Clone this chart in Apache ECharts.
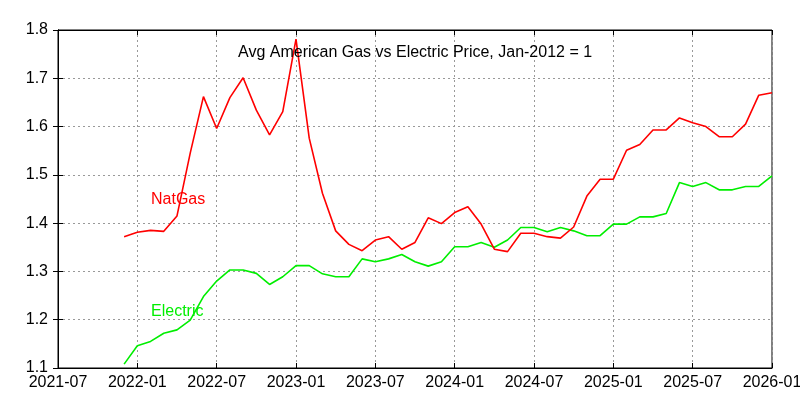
<!DOCTYPE html>
<html>
<head>
<meta charset="utf-8">
<script src="https://cdn.jsdelivr.net/npm/echarts@6/dist/echarts.min.js"></script>
<style>
    html, body { margin: 0; padding: 0; background: #fff; }
    #chart { width: 800px; height: 400px; }
</style>
</head>
<body>
<div id="chart"></div>
<script>
// monthly points, Dec 2021 .. Jan 2026
const months = [
    '2021-12', '2022-01', '2022-02', '2022-03', '2022-04', '2022-05', '2022-06',
    '2022-07', '2022-08', '2022-09', '2022-10', '2022-11', '2022-12',
    '2023-01', '2023-02', '2023-03', '2023-04', '2023-05', '2023-06',
    '2023-07', '2023-08', '2023-09', '2023-10', '2023-11', '2023-12',
    '2024-01', '2024-02', '2024-03', '2024-04', '2024-05', '2024-06',
    '2024-07', '2024-08', '2024-09', '2024-10', '2024-11', '2024-12',
    '2025-01', '2025-02', '2025-03', '2025-04', '2025-05', '2025-06',
    '2025-07', '2025-08', '2025-09', '2025-10', '2025-11', '2025-12',
    '2026-01'
];
const natGas = [
    1.372, 1.381, 1.385, 1.383, 1.415, 1.545, 1.662,
    1.596, 1.660, 1.701, 1.634, 1.583, 1.631,
    1.781, 1.576, 1.462, 1.384, 1.356, 1.343,
    1.365, 1.372, 1.346, 1.360, 1.411, 1.399,
    1.422, 1.434, 1.398, 1.346, 1.341, 1.379,
    1.379, 1.372, 1.369, 1.392, 1.456, 1.491,
    1.491, 1.551, 1.563, 1.593, 1.593, 1.618,
    1.608, 1.600, 1.579, 1.579, 1.605, 1.665,
    1.670
];
const electric = [
    1.108, 1.146, 1.155, 1.172, 1.179, 1.199, 1.248,
    1.280, 1.303, 1.303, 1.296, 1.273, 1.289,
    1.312, 1.312, 1.295, 1.289, 1.289, 1.326,
    1.320, 1.326, 1.335, 1.320, 1.311, 1.320,
    1.351, 1.351, 1.360, 1.350, 1.365, 1.391,
    1.391, 1.382, 1.391, 1.384, 1.374, 1.374,
    1.398, 1.398, 1.413, 1.413, 1.420, 1.484,
    1.476, 1.484, 1.469, 1.469, 1.476, 1.476,
    1.498
];
const xTickLabels = [
    '2021-07', '2022-01', '2022-07', '2023-01', '2023-07',
    '2024-01', '2024-07', '2025-01', '2025-07', '2026-01'
];

const FONT = 'Liberation Sans';

// x axis counts months from the first tick label
const start = xTickLabels[0].split('-').map(Number);
function monthIndex(s) {
    const [y, m] = s.split('-').map(Number);
    return (y - start[0]) * 12 + (m - start[1]);
}
const xMax = monthIndex(xTickLabels[xTickLabels.length - 1]);

const chart = echarts.init(document.getElementById('chart'));

const gridLine = {
    show: true,
    lineStyle: { color: '#999', type: [2, 3], width: 1 }
};

chart.setOption({
    animation: false,
    backgroundColor: '#fff',
    title: {
        text: 'Avg American Gas vs Electric Price, Jan-2012 = 1',
        left: 233,
        top: 40,
        textStyle: { fontFamily: FONT, fontSize: 16, fontWeight: 'normal', color: '#000' }
    },
    grid: {
        left: 58,
        right: 28,
        top: 30,
        bottom: 32,
        outerBoundsMode: 'none',
        containLabel: false,
        show: true,
        borderColor: '#000',
        borderWidth: 1
    },
    xAxis: [
        {
            type: 'value',
            min: 0,
            max: xMax,
            interval: 6,
            axisLine: { show: true, lineStyle: { color: '#000' } },
            axisTick: { show: true, inside: true, length: 5, lineStyle: { color: '#000' } },
            axisLabel: {
                fontFamily: FONT,
                fontSize: 16,
                color: '#000',
                margin: 7,
                formatter: v => xTickLabels[Math.round(v / 6)] || ''
            },
            splitLine: gridLine
        },
        {
            type: 'value',
            position: 'top',
            min: 0,
            max: xMax,
            interval: 6,
            axisLine: { show: true, lineStyle: { color: '#000' } },
            axisTick: { show: true, inside: true, length: 5, lineStyle: { color: '#000' } },
            axisLabel: { show: false },
            splitLine: { show: false }
        }
    ],
    yAxis: [
        {
            type: 'value',
            min: 1.1,
            max: 1.8,
            interval: 0.1,
            axisLine: { show: true, lineStyle: { color: '#000' } },
            axisTick: { show: true, inside: true, length: 5, lineStyle: { color: '#000' } },
            axisLabel: {
                fontFamily: FONT,
                fontSize: 16,
                color: '#000',
                margin: 10,
                formatter: v => v.toFixed(1)
            },
            splitLine: gridLine
        },
        {
            type: 'value',
            position: 'right',
            min: 1.1,
            max: 1.8,
            interval: 0.1,
            axisLine: { show: true, lineStyle: { color: '#000' } },
            axisTick: { show: true, inside: true, length: 5, lineStyle: { color: '#000' } },
            axisLabel: { show: false },
            splitLine: { show: false }
        }
    ],
    graphic: [
        {
            type: 'text',
            left: 151,
            top: 192,
            style: { text: 'NatGas', font: '16px "Liberation Sans"', fill: '#ff0000' }
        },
        {
            type: 'text',
            left: 151,
            top: 304,
            style: { text: 'Electric', font: '16px "Liberation Sans"', fill: '#00ee00' }
        }
    ],
    series: [
        {
            name: 'NatGas',
            type: 'line',
            showSymbol: false,
            lineStyle: { color: '#ff0000', width: 1.6 },
            data: months.map((m, i) => [monthIndex(m), natGas[i]]),
            z: 3
        },
        {
            name: 'Electric',
            type: 'line',
            showSymbol: false,
            lineStyle: { color: '#00ee00', width: 1.6 },
            data: months.map((m, i) => [monthIndex(m), electric[i]]),
            z: 2
        }
    ]
});
</script>
</body>
</html>
